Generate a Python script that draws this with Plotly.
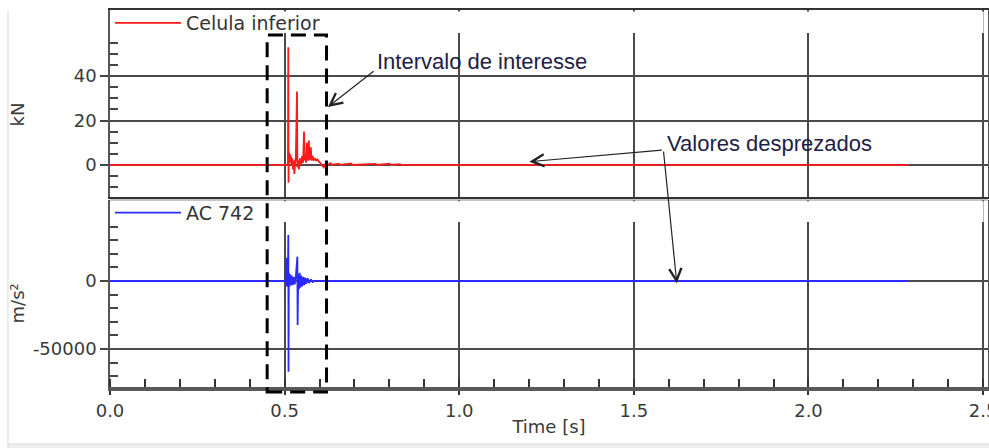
import plotly.graph_objects as go

# ---------------- data ----------------
series_names = ["Celula inferior", "AC 742"]

time_kn = [0.0, 0.508, 0.5095, 0.5105, 0.5112, 0.5120, 0.5135, 0.5150, 0.5165,
           0.518, 0.520, 0.522, 0.524, 0.526, 0.528, 0.530, 0.532, 0.5355,
           0.5365, 0.539, 0.541, 0.544, 0.547, 0.550, 0.553, 0.5555, 0.557,
           0.559, 0.5615, 0.5635, 0.565, 0.567, 0.5695, 0.571, 0.573, 0.575,
           0.577, 0.580, 0.583, 0.586, 0.590, 0.594, 0.598, 0.602, 0.606,
           0.612, 0.617, 0.622, 0.632, 0.636, 0.655, 0.660, 0.690, 0.695,
           0.760, 0.765, 0.800, 0.805, 0.830, 0.835, 2.287]
force_kn = [0, 0, 1, 53, -8, 6, 2, 5, 1,
            4, 0, 3, -2, 2, -4, 1, 3, 33,
            -1, 2, -2, 3, 0, 4, 1, 15, 2,
            5, 1, 10, 2, 4, 11, 2, 5, 8,
            2, 4, 2, 3, 2, 2.5, 1.5, 1, 0,
            -1, 0.5, 0, 0.8, 0, 0.6, 0, 0.7, 0,
            0.5, 0, 0.6, 0, 0.4, 0, 0]

time_acc = [0.0, 0.504, 0.5055, 0.5065, 0.5075, 0.5085, 0.5095, 0.5106, 0.5112,
            0.512, 0.514, 0.516, 0.518, 0.520, 0.523, 0.526, 0.529, 0.532,
            0.5365, 0.5372, 0.539, 0.541, 0.543, 0.545, 0.547, 0.550, 0.553,
            0.556, 0.559, 0.562, 0.566, 0.570, 0.575, 0.580, 0.585, 2.285]
acc_ms2 = [0, 0, 17000, -4000, 12000, -3000, 8000, 33800, -66700,
           6000, -4000, 5000, -3000, 4000, -3000, 3000, -2500, 3000,
           17900, -32400, 5000, -6000, 6000, -5000, 4000, -4000, 3000,
           -3000, 2500, -2000, 2000, -1500, 1200, -800, 0, 0]

x_range = [0.0, 2.514]
kn_range = [-14.4, 69.7]
acc_range = [-77940, 59560]
kn_tick_vals = [0, 20, 40]
kn_minor_vals = [-10, -5, 5, 10, 15, 25, 30, 35, 45, 50, 55]
acc_tick_vals = [0, -50000]
acc_tick_text = ["0", "-50000"]
acc_minor_vals = [-70000, -60000, -40000, -30000, -20000, -10000,
                  10000, 20000, 30000, 40000]
interval_bounds = [0.45, 0.62]

# annotation anchor points (data coordinates)
interval_label = dict(text="Intervalo de interesse", x=0.759, y=46.7)
interval_arrow = dict(head=(0.624, 26.1), tail=(0.759, 42.7))
discard_label = dict(text="Valores desprezados", x=1.589, y=9.7)
discard_arrow_kn = dict(head=(1.2007, 1.48), tail=(1.5845, 6.74))
discard_arrow_acc = dict(head=(1.6229, -1690), tail=(1.5845, 96324))

# ---------------- figure ----------------
TICK_FONT = dict(family="DejaVu Sans", size=18, color="#3a3a3a")
GRID = "#4a4a4a"
ANN_FONT = dict(family="Liberation Sans", size=22, color="#1e1e44")

fig = go.Figure()
fig.add_trace(go.Scatter(x=time_kn, y=force_kn, mode="lines", name=series_names[0],
                         line=dict(color="#ff1a1a", width=1.8),
                         xaxis="x", yaxis="y", legend="legend"))
fig.add_trace(go.Scatter(x=time_acc, y=acc_ms2, mode="lines", name=series_names[1],
                         line=dict(color="#2a2aff", width=1.8),
                         xaxis="x2", yaxis="y2", legend="legend2"))

common_x = dict(range=x_range, tickmode="linear", tick0=0, dtick=0.5, automargin=False,
                showgrid=True, gridcolor=GRID, gridwidth=1.5, zeroline=False)

fig.update_layout(
    width=989, height=448,
    margin=dict(l=110, r=1, t=10, b=61),
    paper_bgcolor="white", plot_bgcolor="white",
    showlegend=True,
    xaxis=dict(domain=[0, 1], anchor="y", showticklabels=False, ticks="",
               showline=True, linecolor="#333", linewidth=1.5, mirror=True,
               **common_x),
    xaxis2=dict(domain=[0, 1], anchor="y2", matches="x", tickformat=".1f",
                ticks="outside", ticklen=4, tickwidth=1.5, tickcolor="#333",
                ticklabeloverflow="allow",
                minor=dict(tick0=0, dtick=0.1, ticks="inside", ticklen=8,
                           tickwidth=1.5, tickcolor="#333", showgrid=False),
                showline=True, linecolor="#595959", linewidth=4, mirror=False,
                tickfont=TICK_FONT,
                title=dict(text="Time [s]", font=TICK_FONT, standoff=2),
                **common_x),
    yaxis=dict(domain=[0.504, 1], anchor="x", range=kn_range, automargin=False,
               tickmode="array", tickvals=kn_tick_vals,
               ticks="outside", ticklen=8, tickwidth=1.5, tickcolor="#444",
               minor=dict(tickmode="array", tickvals=kn_minor_vals, ticks="inside",
                          ticklen=8, tickwidth=1.5, tickcolor="#444", showgrid=False),
               showgrid=True, gridcolor=GRID, gridwidth=1.5, zeroline=False,
               showline=True, linecolor="#555", linewidth=1.5, mirror=True,
               tickfont=TICK_FONT),
    yaxis2=dict(domain=[0, 0.496], anchor="x2", range=acc_range, automargin=False,
                tickmode="array", tickvals=acc_tick_vals, ticktext=acc_tick_text,
                ticks="outside", ticklen=8, tickwidth=1.5, tickcolor="#444",
                minor=dict(tickmode="array", tickvals=acc_minor_vals, ticks="inside",
                           ticklen=8, tickwidth=1.5, tickcolor="#444", showgrid=False),
                showgrid=True, gridcolor=GRID, gridwidth=1.5, zeroline=False,
                showline=True, linecolor="#555", linewidth=1.5, mirror=True,
                tickfont=TICK_FONT),
    legend=dict(x=0.0, y=1.0156, xanchor="left", yanchor="top",
                bgcolor="rgba(0,0,0,0)", itemwidth=66,
                font=dict(family="DejaVu Sans", size=19, color="#333")),
    legend2=dict(x=0.0, y=0.5124, xanchor="left", yanchor="top",
                 bgcolor="rgba(0,0,0,0)", itemwidth=66,
                 font=dict(family="DejaVu Sans", size=19, color="#333")),
)

shapes = [
    # white bands at the top of each panel (hide grid lines there)
    dict(type="rect", xref="paper", yref="paper", x0=0.003, x1=0.995,
         y0=0.939, y1=0.996, fillcolor="white", line=dict(width=0), layer="above"),
    dict(type="rect", xref="paper", yref="paper", x0=0.003, x1=0.995,
         y0=0.4377, y1=0.493, fillcolor="white", line=dict(width=0), layer="above"),
    # top border of lower panel
    dict(type="line", xref="paper", yref="paper", x0=0, x1=1, y0=0.496, y1=0.496,
         line=dict(color="#8a8a8a", width=1)),
    # widget frame
    dict(type="line", xref="paper", yref="paper", x0=-0.1162, x1=-0.1162,
         y0=1.0, y1=-0.1512, line=dict(color="#d9d9d9", width=1)),
    dict(type="rect", xref="paper", yref="paper", x0=-0.1162, x1=1.01,
         y0=-0.1512, y1=-0.17, fillcolor="#eeeeee", line=dict(color="#d9d9d9", width=1)),
    # interval of interest (dashed box across both panels)
    dict(type="rect", xref="x", yref="paper",
         x0=interval_bounds[0], x1=interval_bounds[1], y0=-0.0133, y1=0.9337,
         line=dict(color="black", width=3, dash="15px,8px"),
         fillcolor="rgba(0,0,0,0)", layer="above"),
]
fig.update_layout(shapes=shapes)

ARROW = dict(showarrow=True, arrowhead=5, arrowsize=2, arrowwidth=1.2,
             arrowcolor="#222", text="")
annotations = [
    dict(text="kN", xref="paper", yref="paper", x=-0.1054, y=0.7241,
         xanchor="center", yanchor="middle",
         textangle=-90, showarrow=False, font=TICK_FONT),
    dict(text="m/s²", xref="paper", yref="paper", x=-0.1054, y=0.2228,
         xanchor="center", yanchor="middle",
         textangle=-90, showarrow=False, font=TICK_FONT),
    dict(text=interval_label["text"], xref="x", yref="y",
         x=interval_label["x"], y=interval_label["y"], xanchor="left",
         yanchor="middle", showarrow=False, font=ANN_FONT),
    dict(text=discard_label["text"], xref="x", yref="y",
         x=discard_label["x"], y=discard_label["y"], xanchor="left",
         yanchor="middle", showarrow=False, font=ANN_FONT),
    dict(xref="x", yref="y", axref="x", ayref="y",
         x=interval_arrow["head"][0], y=interval_arrow["head"][1],
         ax=interval_arrow["tail"][0], ay=interval_arrow["tail"][1], **ARROW),
    dict(xref="x", yref="y", axref="x", ayref="y",
         x=discard_arrow_kn["head"][0], y=discard_arrow_kn["head"][1],
         ax=discard_arrow_kn["tail"][0], ay=discard_arrow_kn["tail"][1], **ARROW),
    dict(xref="x2", yref="y2", axref="x2", ayref="y2",
         x=discard_arrow_acc["head"][0], y=discard_arrow_acc["head"][1],
         ax=discard_arrow_acc["tail"][0], ay=discard_arrow_acc["tail"][1], **ARROW),
]
fig.update_layout(annotations=annotations)

fig.write_html(
    "out.html",
    config={"displayModeBar": False},
    post_script="document.body.style.margin='0';document.body.style.overflow='hidden';",
)
